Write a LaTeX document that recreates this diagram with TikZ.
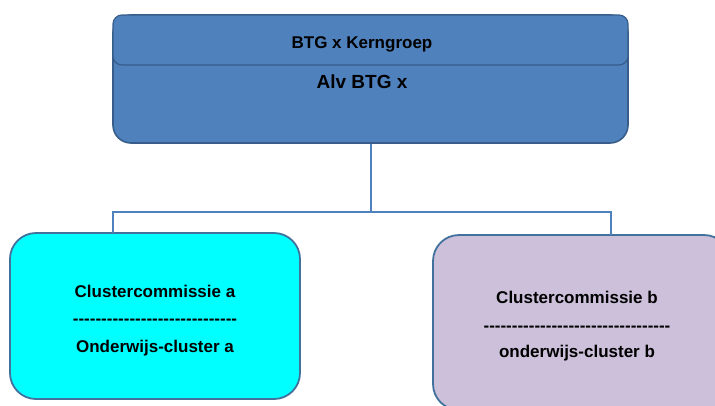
\documentclass[tikz,border=0pt]{standalone}
\usepackage{fontspec}
\setmainfont{Liberation Sans}
\definecolor{topfill}{HTML}{4F81BD}
\definecolor{topline}{HTML}{385D8A}
\definecolor{cyanfill}{HTML}{00FFFF}
\definecolor{lavfill}{HTML}{CCC0DA}
\definecolor{boxline}{HTML}{41719C}
\definecolor{connc}{HTML}{4F81BD}
\newcommand{\dashrowa}{-{}-{}-{}-{}-{}-{}-{}-{}-{}-{}-{}-{}-{}-{}-{}-{}-{}-{}-{}-{}-{}-{}-{}-{}-{}-{}-{}-{}-{}}
\newcommand{\dashrowb}{-{}-{}-{}-{}-{}-{}-{}-{}-{}-{}-{}-{}-{}-{}-{}-{}-{}-{}-{}-{}-{}-{}-{}-{}-{}-{}-{}-{}-{}-{}-{}-{}-{}}
\begin{document}
\begin{tikzpicture}[x=1pt,y=1pt,
  bigbox/.style={draw=topline, line width=1.6pt, fill=topfill, rounded corners=18pt, inner sep=0pt},
  stripbox/.style={draw=topline, line width=1.2pt, fill=topfill, rounded corners=9pt, inner sep=0pt},
  clusterbox/.style={draw=boxline, line width=1.8pt, rounded corners=26pt, inner sep=0pt},
  clustertext/.style={align=center, inner sep=0pt, font=\bfseries\fontsize{17}{27.5}\selectfont},
  conn/.style={draw=connc, line width=2pt}]
\useasboundingbox (0,0) rectangle (715,-405);
\begin{scope}
\clip (0,0) rectangle (715,-405);
% top box
\node[bigbox, minimum width=515pt, minimum height=128pt] (top) at (370.5,-79) {};
\node[stripbox, minimum width=515pt, minimum height=50pt] (kern) at (370.5,-40) {};
\node[font=\bfseries\fontsize{17}{20}\selectfont] (kerntext) at (362,-44) {BTG x Kerngroep};
\node[font=\bfseries\fontsize{19}{22}\selectfont] (alv) at (362,-82) {Alv BTG x};
% cluster boxes
\node[clusterbox, fill=cyanfill, minimum width=290pt, minimum height=166pt] (ca) at (155,-316) {};
\node[clusterbox, fill=lavfill, minimum width=297pt, minimum height=175pt] (cb) at (581.5,-322.5) {};
\node[clustertext] (ta) at (155,-321) {Clustercommissie a\\[-1pt]\dashrowa\\[1pt]Onderwijs-cluster a};
\node[clustertext] (tb) at (577,-326) {Clustercommissie b\\[1pt]\dashrowb\\[-2pt]onderwijs-cluster b};
% connectors
\coordinate (bus) at (370.5,-212);
\coordinate (pa) at (113,-233);
\coordinate (pb) at (611,-235);
\draw[conn] (top.south) -- (bus);
\draw[conn] (pa) |- (bus) -| (pb);
\end{scope}
\end{tikzpicture}
\end{document}
